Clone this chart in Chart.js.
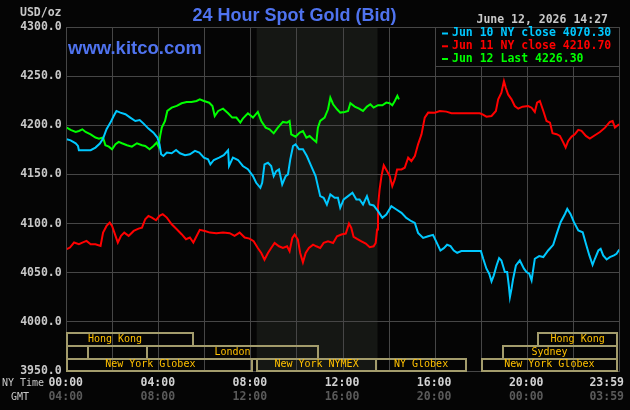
<!DOCTYPE html>
<html>
<head>
<meta charset="utf-8">
<title>24 Hour Spot Gold (Bid)</title>
<script src="https://cdn.jsdelivr.net/npm/chart.js@4.4.1/dist/chart.umd.min.js"></script>
<style>
  html, body { margin: 0; padding: 0; background: #050505; }
  canvas { display: block; }
</style>
</head>
<body>
<canvas id="goldChart" width="630" height="410"></canvas>
<script>
// each point: [hours after 00:00 NY time, USD/oz]
const jun10 = [
  [0.00,4185.8],[0.17,4184.7],[0.39,4181.7],[0.49,4179.0],[0.53,4174.6],[1.04,4174.6],[1.25,4177.3],[1.44,4181.4],
  [1.58,4186.4],[1.73,4196.0],[1.90,4202.7],[2.04,4209.5],[2.16,4214.6],[2.33,4212.9],[2.55,4211.2],[2.76,4207.8],
  [2.98,4204.4],[3.17,4205.4],[3.34,4201.7],[3.55,4196.6],[3.77,4192.5],[3.94,4187.5],[4.03,4180.7],[4.10,4170.5],
  [4.20,4168.8],[4.35,4172.2],[4.56,4171.5],[4.75,4174.9],[4.92,4171.5],[5.14,4169.5],[5.35,4170.5],[5.57,4173.9],
  [5.76,4172.2],[5.96,4167.1],[6.14,4165.4],[6.24,4160.3],[6.39,4164.7],[6.62,4167.1],[6.82,4169.5],[7.01,4174.6],
  [7.05,4158.6],[7.22,4167.1],[7.44,4164.7],[7.65,4158.6],[7.87,4155.3],[8.09,4148.3],[8.23,4141.5],[8.41,4136.4],
  [8.49,4141.5],[8.59,4160.2],[8.74,4161.9],[8.88,4158.5],[8.99,4148.3],[9.10,4153.4],[9.22,4155.1],[9.36,4139.8],
  [9.51,4148.3],[9.61,4150.0],[9.71,4165.3],[9.83,4178.9],[9.94,4180.6],[10.09,4175.5],[10.26,4175.5],[10.43,4168.7],
  [10.62,4158.5],[10.81,4148.3],[10.91,4138.1],[11.01,4127.9],[11.16,4126.2],[11.30,4119.4],[11.45,4129.6],[11.64,4126.2],
  [11.78,4126.2],[11.88,4116.0],[12.03,4124.5],[12.22,4127.9],[12.41,4131.3],[12.58,4124.5],[12.72,4124.5],[12.87,4119.4],
  [13.04,4127.9],[13.16,4119.4],[13.33,4118.4],[13.52,4112.6],[13.71,4105.8],[13.88,4109.2],[14.10,4117.7],[14.32,4114.3],
  [14.54,4110.9],[14.75,4105.8],[14.97,4102.4],[15.12,4100.7],[15.26,4090.5],[15.48,4085.4],[15.70,4087.1],[15.91,4088.5],
  [16.06,4081.1],[16.23,4072.6],[16.38,4075.0],[16.52,4078.4],[16.67,4077.0],[16.81,4072.6],[16.96,4070.3],[17.14,4072.0],
  [17.51,4072.0],[17.99,4072.0],[18.09,4064.2],[18.23,4054.1],[18.35,4049.0],[18.45,4041.2],[18.55,4047.3],[18.67,4057.4],
  [18.78,4064.9],[18.88,4062.5],[19.03,4050.7],[19.13,4050.7],[19.20,4037.2],[19.25,4025.3],[19.32,4033.8],[19.39,4043.9],
  [19.51,4057.4],[19.68,4062.5],[19.86,4054.1],[19.97,4050.7],[20.09,4049.0],[20.19,4042.2],[20.33,4064.2],[20.52,4066.9],
  [20.70,4065.9],[20.91,4072.6],[21.13,4078.4],[21.28,4089.5],[21.45,4101.4],[21.64,4109.8],[21.74,4114.9],[21.88,4109.8],
  [22.03,4101.4],[22.22,4092.9],[22.41,4091.2],[22.55,4079.4],[22.70,4067.6],[22.84,4058.1],[22.94,4064.2],[23.09,4072.6],
  [23.19,4074.3],[23.30,4067.6],[23.45,4063.5],[23.59,4065.9],[23.77,4067.6],[23.88,4069.3],[24.00,4073.6]
];

const jun11 = [
  [0.00,4073.9],[0.14,4075.6],[0.32,4080.7],[0.53,4079.0],[0.68,4080.7],[0.86,4082.4],[1.04,4079.0],[1.25,4079.0],
  [1.47,4077.3],[1.58,4090.8],[1.73,4097.6],[1.87,4101.0],[1.97,4097.6],[2.12,4087.5],[2.22,4080.7],[2.36,4087.5],
  [2.50,4090.8],[2.69,4087.5],[2.91,4092.5],[3.12,4094.9],[3.27,4095.9],[3.41,4104.4],[3.55,4107.8],[3.70,4106.1],
  [3.88,4103.4],[4.03,4107.8],[4.17,4109.5],[4.35,4106.1],[4.56,4099.3],[4.78,4094.2],[4.99,4089.2],[5.18,4084.1],
  [5.35,4085.8],[5.50,4080.7],[5.61,4085.8],[5.78,4093.6],[6.00,4092.5],[6.22,4090.8],[6.50,4090.2],[6.79,4090.8],
  [7.08,4090.2],[7.29,4087.5],[7.51,4090.8],[7.73,4085.8],[7.94,4084.7],[8.12,4082.0],[8.30,4075.2],[8.45,4070.1],
  [8.59,4063.3],[8.74,4070.1],[8.88,4075.2],[9.03,4080.3],[9.22,4076.9],[9.39,4075.2],[9.57,4076.9],[9.68,4071.8],
  [9.80,4085.4],[9.90,4088.8],[10.04,4083.7],[10.14,4070.1],[10.26,4060.5],[10.38,4070.1],[10.52,4075.2],[10.70,4078.6],
  [10.84,4076.9],[11.01,4075.2],[11.16,4080.3],[11.35,4082.0],[11.57,4080.3],[11.74,4087.1],[11.93,4088.8],[12.12,4089.8],
  [12.26,4100.0],[12.36,4095.6],[12.46,4086.4],[12.61,4084.4],[12.80,4082.0],[12.99,4079.6],[13.16,4075.9],[13.33,4076.9],
  [13.42,4080.3],[13.48,4093.9],[13.52,4117.7],[13.59,4134.7],[13.67,4148.3],[13.77,4159.2],[13.91,4153.4],[14.03,4148.3],
  [14.14,4138.1],[14.25,4144.9],[14.35,4155.1],[14.54,4155.1],[14.68,4156.8],[14.83,4167.0],[14.97,4163.6],[15.12,4168.7],
  [15.26,4180.6],[15.41,4190.8],[15.55,4207.8],[15.70,4212.9],[15.99,4212.8],[16.20,4214.5],[16.49,4213.9],[16.71,4212.2],
  [17.07,4212.2],[17.51,4212.2],[17.94,4212.2],[18.06,4211.1],[18.23,4208.8],[18.45,4209.5],[18.64,4214.5],[18.74,4226.4],
  [18.88,4233.1],[18.99,4244.9],[19.07,4238.2],[19.17,4231.4],[19.32,4226.4],[19.46,4219.6],[19.61,4216.9],[19.80,4218.9],
  [20.04,4219.6],[20.19,4217.9],[20.33,4213.5],[20.43,4223.0],[20.55,4224.7],[20.70,4214.5],[20.84,4204.4],[20.99,4202.7],
  [21.10,4191.9],[21.28,4190.9],[21.42,4189.2],[21.57,4182.4],[21.67,4177.4],[21.78,4184.1],[21.93,4188.5],[22.07,4190.9],
  [22.22,4195.3],[22.36,4194.3],[22.55,4189.2],[22.72,4186.5],[22.94,4189.9],[23.16,4193.2],[23.38,4197.6],[23.59,4203.4],
  [23.71,4204.4],[23.81,4197.6],[23.93,4200.0],[24.00,4201.0]
];

const jun12 = [
  [0.00,4197.6],[0.17,4195.3],[0.39,4193.2],[0.53,4194.2],[0.68,4195.9],[0.82,4193.2],[1.04,4190.8],[1.25,4187.5],
  [1.40,4186.4],[1.58,4187.5],[1.68,4179.7],[1.83,4178.3],[1.97,4175.6],[2.12,4180.7],[2.26,4183.1],[2.40,4181.7],
  [2.62,4179.7],[2.83,4178.3],[3.05,4181.7],[3.27,4179.7],[3.41,4179.0],[3.60,4175.6],[3.77,4179.0],[3.91,4182.4],
  [3.99,4178.3],[4.06,4189.2],[4.13,4197.6],[4.27,4204.4],[4.37,4214.6],[4.56,4218.0],[4.78,4219.7],[4.99,4222.4],
  [5.21,4223.7],[5.42,4223.7],[5.64,4224.7],[5.78,4226.4],[5.96,4224.7],[6.19,4223.0],[6.33,4219.7],[6.43,4209.5],
  [6.58,4214.6],[6.79,4216.9],[7.01,4212.2],[7.19,4207.8],[7.37,4207.8],[7.54,4202.7],[7.65,4206.8],[7.87,4212.2],
  [8.09,4207.8],[8.30,4213.6],[8.45,4204.4],[8.64,4197.6],[8.81,4195.9],[8.99,4191.8],[9.17,4197.6],[9.39,4203.4],
  [9.57,4202.7],[9.68,4204.4],[9.75,4190.8],[9.94,4188.4],[10.12,4192.5],[10.26,4194.2],[10.41,4187.4],[10.55,4189.1],
  [10.70,4185.7],[10.84,4183.0],[10.91,4197.6],[11.01,4204.4],[11.20,4207.8],[11.35,4216.3],[11.45,4228.2],[11.57,4221.4],
  [11.74,4216.3],[11.88,4212.9],[12.07,4213.6],[12.22,4214.6],[12.32,4222.4],[12.51,4219.0],[12.70,4217.0],[12.87,4214.6],
  [13.04,4219.0],[13.19,4221.4],[13.33,4218.0],[13.52,4220.4],[13.71,4220.4],[13.88,4223.1],[14.03,4222.4],[14.14,4220.4],
  [14.25,4224.8],[14.36,4229.9],[14.43,4226.3]
];

const seriesLabels = ['Jun 10 NY close 4070.30', 'Jun 11 NY close 4210.70', 'Jun 12 Last 4226.30'];
const seriesColors = ['#00c8ff', '#ff0000', '#00ff00'];

const tickHours = [0, 4, 8, 12, 16, 20, 24];
const nyTimeLabels = ['00:00', '04:00', '08:00', '12:00', '16:00', '20:00', '23:59'];
const gmtLabels = ['04:00', '08:00', '12:00', '16:00', '20:00', '00:00', '03:59'];

// market sessions (row 0 = top strip), hours in NY time
const sessionRow   = [0, 0, 1, 1, 1, 2, 2, 2, 2];
const sessionStart = [0, 20.48, 0, 3.47, 18.96, 0, 8.25, 13.45, 18.02];
const sessionEnd   = [5.47, 23.9, 0.94, 10.93, 23.9, 8.03, 13.45, 17.33, 23.9];
const sessionName  = ['Hong Kong', 'Hong Kong', '', 'London', 'Sydney', 'New York Globex', 'New York NYMEX', 'NY Globex', 'New York Globex'];
const sessionTextAt = [2.1, null, null, null, 20.97, 3.63, null, null, null];

const nymexPit = [8.25, 13.5];

const MONO = '"DejaVu Sans Mono", monospace';
const GRID = '#464646';

function text(ctx, str, x, y, font, color, align) {
    ctx.font = font;
    ctx.fillStyle = color;
    ctx.textAlign = align || 'left';
    ctx.textBaseline = 'middle';
    ctx.fillText(str, x, y);
}

function crisp(v) {
    return Math.round(v - 0.5) + 0.5;
}

const kitcoDecor = {
    id: 'kitcoDecor',
    beforeDraw(chart) {
        const { ctx, chartArea: a, scales: { x } } = chart;
        ctx.save();
        ctx.fillStyle = '#050505';
        ctx.fillRect(0, 0, chart.width, chart.height);
        // shaded NYMEX pit hours
        const s0 = x.getPixelForValue(nymexPit[0]);
        const s1 = x.getPixelForValue(nymexPit[1]);
        ctx.fillStyle = '#151714';
        ctx.fillRect(s0, a.top, s1 - s0, a.bottom - a.top);
        ctx.restore();
    },
    beforeDatasetsDraw(chart) {
        const { ctx, chartArea: a, scales: { x } } = chart;
        ctx.save();
        // legend box in the top right corner
        const lx = crisp(x.getPixelForValue(16));
        const lb = crisp(a.top + 39.5);
        ctx.fillStyle = '#050505';
        ctx.fillRect(lx, crisp(a.top), a.right - lx, lb - crisp(a.top));
        ctx.strokeStyle = GRID;
        ctx.lineWidth = 1;
        ctx.strokeRect(lx, crisp(a.top), crisp(a.right) - lx, lb - crisp(a.top));

        // session strips
        const rowTops = [a.bottom - 38, a.bottom - 25.5, a.bottom - 12.5];
        ctx.strokeStyle = '#a39c6c';
        ctx.lineWidth = 2;
        for (let i = 0; i < sessionRow.length; i++) {
            const x0 = Math.round(x.getPixelForValue(sessionStart[i]));
            const x1 = Math.round(x.getPixelForValue(sessionEnd[i]));
            const y0 = Math.round(rowTops[sessionRow[i]]);
            const y1 = Math.round(sessionRow[i] < 2 ? rowTops[sessionRow[i] + 1] : a.bottom);
            ctx.strokeRect(x0, y0, x1 - x0, y1 - y0);
        }
        ctx.restore();
    },
    afterDraw(chart) {
        const { ctx, chartArea: a, scales: { x } } = chart;
        ctx.save();
        // headings
        text(ctx, '24 Hour Spot Gold (Bid)', 294.5, 16.5, 'bold 18px "Liberation Sans", Arial, sans-serif', '#4f73ef', 'center');
        text(ctx, 'www.kitco.com', 68, 48.5, 'bold 18.5px "Liberation Sans", Arial, sans-serif', '#4f73ef');
        text(ctx, 'June 12, 2026 14:27', 608, 20, 'bold 11.5px ' + MONO, '#c8c8c8', 'right');
        text(ctx, 'USD/oz', 61.5, 13, 'bold 11.5px ' + MONO, '#c8c8c8', 'right');

        // legend entries
        const rowY = [33.5, 46.3, 59];
        for (let i = 0; i < seriesLabels.length; i++) {
            ctx.fillStyle = seriesColors[i];
            ctx.fillRect(442, rowY[i] - 1, 6, 2);
            text(ctx, seriesLabels[i], 452, rowY[i], 'bold 11.5px ' + MONO, seriesColors[i]);
        }

        // session names
        const rowMid = [a.bottom - 31.7, a.bottom - 19, a.bottom - 6.2];
        for (let i = 0; i < sessionRow.length; i++) {
            if (!sessionName[i]) continue;
            const h = sessionTextAt[i] !== null ? sessionTextAt[i] : (sessionStart[i] + sessionEnd[i]) / 2;
            text(ctx, sessionName[i], x.getPixelForValue(h), rowMid[sessionRow[i]], '10px ' + MONO, '#ffc000', 'center');
        }

        // time axis: NY time and GMT rows
        text(ctx, 'NY Time', 2, 383, '10px ' + MONO, '#c8c8c8');
        text(ctx, 'GMT', 11, 397, '10px ' + MONO, '#c8c8c8');
        ctx.font = 'bold 11.5px ' + MONO;
        for (let i = 0; i < tickHours.length; i++) {
            const half = ctx.measureText(nyTimeLabels[i]).width / 2;
            const cx = Math.min(x.getPixelForValue(tickHours[i]) - 1, chart.width - 6 - half);
            text(ctx, nyTimeLabels[i], cx, 383, 'bold 11.5px ' + MONO, '#d2d2d2', 'center');
            text(ctx, gmtLabels[i], cx, 397, 'bold 11.5px ' + MONO, '#5a5a5a', 'center');
        }
        ctx.restore();
    }
};

const toPoints = arr => arr.map(p => ({ x: p[0], y: p[1] }));

new Chart(document.getElementById('goldChart'), {
    type: 'line',
    data: {
        datasets: [jun10, jun11, jun12].map((series, i) => ({
            label: seriesLabels[i],
            data: toPoints(series),
            borderColor: seriesColors[i],
            borderWidth: 2,
            pointRadius: 0,
            tension: 0,
            fill: false
        }))
    },
    options: {
        responsive: false,
        devicePixelRatio: 1,
        animation: false,
        layout: { padding: { top: 27, right: 10.7, bottom: 39, left: 0 } },
        plugins: {
            legend: { display: false },
            tooltip: { enabled: false }
        },
        scales: {
            x: {
                type: 'linear',
                min: 0,
                max: 24,
                ticks: { stepSize: 2, display: false },
                grid: { color: GRID, drawTicks: false },
                border: { color: GRID }
            },
            y: {
                min: 3950,
                max: 4300,
                afterFit: function(scale) { scale.width = 66.7; },
                ticks: {
                    stepSize: 50,
                    padding: 5,
                    color: '#c8c8c8',
                    font: { family: '"DejaVu Sans Mono", monospace', size: 11.5, weight: 'bold' },
                    callback: function(value) { return value.toFixed(1); }
                },
                grid: { color: GRID, drawTicks: false },
                border: { color: GRID }
            }
        }
    },
    plugins: [kitcoDecor]
});
</script>
</body>
</html>
